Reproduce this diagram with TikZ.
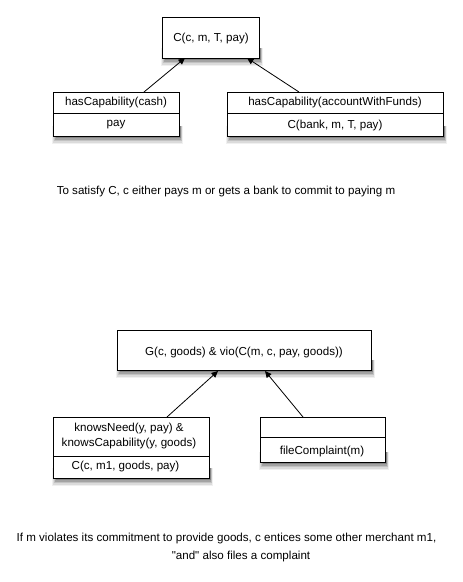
\documentclass[tikz,border=0pt]{standalone}
\usepackage{fontspec}
\setmainfont{Liberation Sans}[Ligatures=TeXOff]
\usetikzlibrary{arrows.meta}
\newcommand\dropshade[3]{%
  \fill[black!6]  ({#1-1},{#2-10}) rectangle ({#3+3.5},{#2+8});
  \fill[black!14] ({#1},{#2-10})   rectangle ({#3+3},{#2+6.5});
  \fill[black!24] ({#1+1},{#2-10}) rectangle ({#3+2.5},{#2+5});
  \fill[black!36] ({#1+2},{#2-10}) rectangle ({#3+2},{#2+3.5});
  \fill[black!48] ({#1+3},{#2-10}) rectangle ({#3+1.5},{#2+2});
}
\begin{document}
\begin{tikzpicture}[x=1pt,y=-1pt,
  every node/.style={font=\fontsize{11.6}{13.5}\selectfont, inner sep=0pt},
  boxshape/.style={draw=black, line width=0.9pt, fill=white, rectangle, anchor=north west},
  divider/.style={line width=0.9pt},
  conn/.style={line width=0.8pt, -{Triangle[length=6.5pt,width=6pt]}},
  lbl/.style={anchor=center}
]
\useasboundingbox (0,0) rectangle (463,582);
% ---- shadows ----
\dropshade{162}{58}{259}
\dropshade{53}{136}{179}
\dropshade{227}{136}{443}
\dropshade{117}{370}{371}
\dropshade{53}{478}{209}
\dropshade{260}{462}{385}
% ---- top diagram ----
\node[boxshape, minimum width=97pt, minimum height=41pt] (top) at (162,17) {};
\node[lbl] (toptxt) at (211,38) {C(c, m, T, pay)};

\node[boxshape, minimum width=126pt, minimum height=44pt] (cash) at (53,92) {};
\draw[divider] (53,113) -- (179,113);
\node[lbl] (cashA) at (116,102.5) {hasCapability(cash)};
\node[lbl] (cashB) at (116,125) {pay};

\node[boxshape, minimum width=216pt, minimum height=44pt] (acct) at (227,92) {};
\draw[divider] (227,113) -- (443,113);
\node[lbl] (acctA) at (335,102.5) {hasCapability(accountWithFunds)};
\node[lbl] (acctB) at (335,125) {C(bank, m, T, pay)};

\coordinate (c1s) at (144,92); \coordinate (c1e) at (185,58);
\coordinate (c2s) at (299,92); \coordinate (c2e) at (247,58);
\draw[conn] (c1s) -- (c1e);
\draw[conn] (c2s) -- (c2e);

\node[lbl] (cap1) at (226,191.5) {To satisfy C, c either pays m or gets a bank to commit to paying m};

% ---- bottom diagram ----
\node[boxshape, minimum width=254pt, minimum height=40pt] (goal) at (117,330) {};
\node[lbl] (goaltxt) at (244,352) {G(c, goods) \& vio(C(m, c, pay, goods))};

\node[boxshape, minimum width=156pt, minimum height=61pt] (know) at (53,417) {};
\draw[divider] (53,456) -- (209,456);
\node[lbl] (knowA) at (129,428.5) {knowsNeed(y, pay) \&};
\node[lbl] (knowB) at (129,443.5) {knowsCapability(y, goods)};
\node[lbl] (knowC) at (125.5,466.5) {C(c, m1, goods, pay)};

\node[boxshape, minimum width=125pt, minimum height=45pt] (fc) at (260,417) {};
\draw[divider] (260,437) -- (385,437);
\node[lbl] (fcB) at (322,451) {fileComplaint(m)};

\coordinate (c3s) at (167,417); \coordinate (c3e) at (218,371);
\coordinate (c4s) at (303,417); \coordinate (c4e) at (265,371);
\draw[conn] (c3s) -- (c3e);
\draw[conn] (c4s) -- (c4e);

\node[lbl] (cap2a) at (226.5,538.5) {If m violates its commitment to provide goods, c entices some other merchant m1,};
\node[lbl] (cap2b) at (241,556) {"and" also files a complaint};
\end{tikzpicture}
\end{document}
